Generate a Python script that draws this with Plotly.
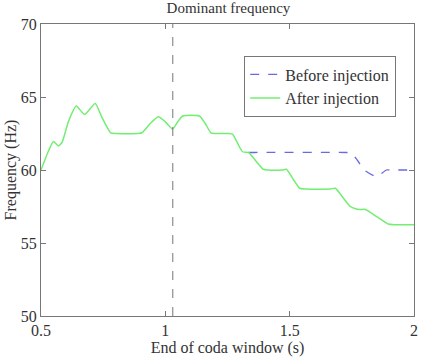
import plotly.graph_objects as go

# Data
after_x = [0.5, 0.53, 0.55, 0.57, 0.585, 0.61, 0.642, 0.675, 0.718, 0.745, 0.78, 0.80, 0.89, 0.906,
           0.94, 0.972, 1.0, 1.029, 1.05, 1.07, 1.137, 1.16, 1.183, 1.20, 1.255, 1.27, 1.29, 1.31,
           1.335, 1.365, 1.394, 1.41, 1.47, 1.487, 1.515, 1.54, 1.56, 1.665, 1.684, 1.715, 1.744,
           1.765, 1.783, 1.805, 1.85, 1.896, 1.92, 2.0]
after_y = [60.0, 61.3, 61.95, 61.65, 61.9, 63.3, 64.38, 63.8, 64.55, 63.6, 62.55, 62.5, 62.5, 62.55,
           63.2, 63.65, 63.3, 62.8, 63.3, 63.7, 63.7, 63.2, 62.55, 62.5, 62.5, 62.45, 61.85, 61.25,
           61.2, 60.6, 60.05, 60.0, 60.0, 60.05, 59.35, 58.75, 58.7, 58.7, 58.75, 58.1, 57.5,
           57.35, 57.3, 57.3, 56.8, 56.3, 56.25, 56.25]
before_x = [1.335, 1.36, 1.73, 1.75, 1.775, 1.80, 1.849, 1.889, 1.91, 2.0]
before_y = [61.2, 61.2, 61.2, 61.15, 60.6, 60.0, 59.55, 60.0, 60.0, 60.0]
injection_time = 1.03
x_ticks = [0.5, 1, 1.5, 2]
x_tick_labels = ["0.5", "1", "1.5", "2"]
y_ticks = [50, 55, 60, 65, 70]

FONT = "Liberation Serif, Times New Roman, serif"
TXT = "#333333"

fig = go.Figure()
fig.add_trace(go.Scatter(x=before_x, y=before_y, mode="lines", name="Before injection",
                         line=dict(color="#6a6ae0", width=1.3, dash="dash", shape="spline", smoothing=0.5)))
fig.add_trace(go.Scatter(x=after_x, y=after_y, mode="lines", name="After injection",
                         line=dict(color="#72ee72", width=1.5, shape="spline", smoothing=0.5)))

fig.add_shape(type="line", x0=injection_time, x1=injection_time, y0=0, y1=1, xref="x", yref="paper",
              line=dict(color="#777777", width=1, dash="dash"))

axis_common = dict(showline=True, linecolor="#777777", linewidth=1.3, mirror="ticks",
                   ticks="inside", ticklen=5, tickcolor="#777777", showgrid=False, zeroline=False,
                   tickfont=dict(family=FONT, size=16, color=TXT))

fig.update_xaxes(range=[0.5, 2], tickvals=x_ticks, ticktext=x_tick_labels,
                 title=dict(text="End of coda window (s)", font=dict(family=FONT, size=16, color=TXT), standoff=0),
                 **axis_common)
fig.update_yaxes(range=[50, 70], tickvals=y_ticks,
                 title=dict(text="Frequency (Hz)", font=dict(family=FONT, size=16, color=TXT), standoff=0),
                 **axis_common)

fig.update_layout(
    width=427, height=360,
    margin=dict(l=39, r=9, t=24, b=44, pad=0),
    paper_bgcolor="white", plot_bgcolor="white",
    title=dict(text="Dominant frequency", x=0.535, xanchor="center", y=0.993, yanchor="top",
               pad=dict(t=0), font=dict(family=FONT, size=15, color=TXT)),
    legend=dict(x=0.544, y=0.89, xanchor="left", yanchor="top", bordercolor="#777777", borderwidth=1.3,
                bgcolor="white", font=dict(family=FONT, size=16, color=TXT),
                tracegroupgap=0, itemwidth=30),
    showlegend=True,
)

fig.write_html("out.html")
